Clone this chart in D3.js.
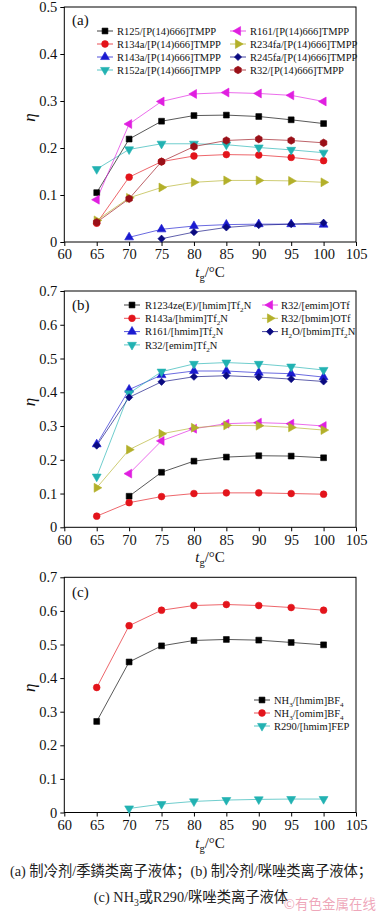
<!DOCTYPE html>
<html><head><meta charset="utf-8">
<script src="https://cdn.jsdelivr.net/npm/d3@7"></script>
<style>body{margin:0;background:#fff}svg{display:block}</style>
</head><body>
<svg id="c" width="381" height="912"></svg>
<script>
// ---------- data ----------
const temps = [65, 70, 75, 80, 85, 90, 95, 100];
const xTicks = [60, 65, 70, 75, 80, 85, 90, 95, 100, 105];
const yTicksA = [0, 0.1, 0.2, 0.3, 0.4, 0.5];
const yTicksBC = [0, 0.1, 0.2, 0.3, 0.4, 0.5, 0.6, 0.7];

// panel (a)
const aNames = ["R125/[P(14)666]TMPP","R134a/[P(14)666]TMPP","R143a/[P(14)666]TMPP","R152a/[P(14)666]TMPP",
                "R161/[P(14)666]TMPP","R234fa/[P(14)666]TMPP","R245fa/[P(14)666]TMPP","R32/[P(14)666]TMPP"];
const aR125   = [0.105,0.219,0.257,0.269,0.270,0.267,0.260,0.252];
const aR134a  = [0.040,0.138,0.171,0.183,0.186,0.185,0.180,0.173];
const aR143a  = [null,0.010,0.027,0.034,0.037,0.038,0.038,0.037];
const aR152a  = [0.155,0.197,0.209,0.209,0.207,0.201,0.196,0.190];
const aR161   = [0.090,0.251,0.299,0.315,0.318,0.316,0.312,0.299];
const aR234fa = [0.046,0.094,0.116,0.127,0.131,0.131,0.130,0.127];
const aR245fa = [null,null,0.007,0.021,0.031,0.036,0.038,0.041];
const aR32    = [0.042,0.092,0.171,0.203,0.216,0.219,0.216,0.211];

// panel (b)
const bNames = ["R1234ze(E)/[hmim]Tf_2N","R143a/[hmim]Tf_2N","R161/[hmim]Tf_2N","R32/[emim]Tf_2N",
                "R32/[emim]OTf","R32/[bmim]OTf","H_2O/[bmim]Tf_2N"];
const bR1234ze  = [null,0.092,0.163,0.196,0.208,0.212,0.211,0.206];
const bR143a    = [0.033,0.073,0.091,0.100,0.102,0.102,0.100,0.098];
const bR161     = [0.246,0.408,0.451,0.463,0.463,0.458,0.455,0.445];
const bR32Tf2N  = [0.150,0.397,0.461,0.484,0.488,0.484,0.476,0.466];
const bR32emOTf = [null,0.159,0.256,0.292,0.307,0.310,0.307,0.300];
const bR32bmOTf = [0.117,0.230,0.277,0.295,0.302,0.301,0.296,0.288];
const bH2O      = [0.242,0.385,0.431,0.446,0.449,0.445,0.439,0.432];

// panel (c)
const cNames = ["NH_3/[hmim]BF_4","NH_3/[omim]BF_4","R290/[hmim]FEP"];
const cNH3hmim = [0.271,0.448,0.496,0.512,0.515,0.513,0.506,0.499];
const cNH3omim = [0.372,0.556,0.602,0.616,0.619,0.616,0.610,0.602];
const cR290    = [null,0.012,0.025,0.033,0.037,0.039,0.040,0.040];

const captionLine1 = "(a) 制冷剂/季鏻类离子液体；(b) 制冷剂/咪唑类离子液体；";
const captionLine2 = "(c) NH_3或R290/咪唑类离子液体";
const watermark = "©有色金属在线";

// ---------- styles ----------
const COL = {black:"#000000", red:"#e3141b", blue:"#1a1ad0", cyan:"#22b2b2", magenta:"#e01fe0",
             olive:"#b3b02a", navy:"#0a0a80", wine:"#9a1018"};
const hexagon = {draw(ctx, size){const r=Math.sqrt(size/2.598);for(let i=0;i<6;i++){const a=Math.PI/3*i+Math.PI/6;const px=r*Math.cos(a),py=r*Math.sin(a);i?ctx.lineTo(px,py):ctx.moveTo(px,py);}ctx.closePath();}};
const MK = {
  square:{type:d3.symbolSquare,size:34,rot:0},
  circle:{type:d3.symbolCircle,size:36,rot:0},
  up:{type:d3.symbolTriangle,size:34,rot:0},
  down:{type:d3.symbolTriangle,size:34,rot:180},
  left:{type:d3.symbolTriangle,size:34,rot:-90},
  right:{type:d3.symbolTriangle,size:34,rot:90},
  diamond:{type:d3.symbolSquare,size:26,rot:45},
  hex:{type:hexagon,size:38,rot:0}
};
const SERIF = "'Liberation Serif','Times New Roman',serif";

const panels = [
  {top:7, bottom:242, ymax:0.5, yTicks:yTicksA, label:"(a)", labelY:20,
   series:[
    {name:aNames[0],v:aR125,c:COL.black,m:"square"},
    {name:aNames[1],v:aR134a,c:COL.red,m:"circle"},
    {name:aNames[2],v:aR143a,c:COL.blue,m:"up"},
    {name:aNames[3],v:aR152a,c:COL.cyan,m:"down"},
    {name:aNames[4],v:aR161,c:COL.magenta,m:"left"},
    {name:aNames[5],v:aR234fa,c:COL.olive,m:"right"},
    {name:aNames[6],v:aR245fa,c:COL.navy,m:"diamond"},
    {name:aNames[7],v:aR32,c:COL.wine,m:"hex"}],
   legend:{cols:[{mx:105,tx:117,items:[0,1,2,3]},{mx:238,tx:250,items:[4,5,6,7]}],y0:31,dy:13}},
  {top:291, bottom:527.3, ymax:0.7, yTicks:yTicksBC, label:"(b)", labelY:305,
   series:[
    {name:bNames[0],v:bR1234ze,c:COL.black,m:"square"},
    {name:bNames[1],v:bR143a,c:COL.red,m:"circle"},
    {name:bNames[2],v:bR161,c:COL.blue,m:"up"},
    {name:bNames[3],v:bR32Tf2N,c:COL.cyan,m:"down"},
    {name:bNames[4],v:bR32emOTf,c:COL.magenta,m:"left"},
    {name:bNames[5],v:bR32bmOTf,c:COL.olive,m:"right"},
    {name:bNames[6],v:bH2O,c:COL.navy,m:"diamond"}],
   legend:{cols:[{mx:132,tx:145,items:[0,1,2,3]},{mx:270,tx:281,items:[4,5,6]}],y0:305,dy:13.3}},
  {top:577.3, bottom:812.5, ymax:0.7, yTicks:yTicksBC, label:"(c)", labelY:592,
   series:[
    {name:cNames[0],v:cNH3hmim,c:COL.black,m:"square"},
    {name:cNames[1],v:cNH3omim,c:COL.red,m:"circle"},
    {name:cNames[2],v:cR290,c:COL.cyan,m:"down"}],
   legend:{cols:[{mx:262,tx:274,items:[0,1,2]}],y0:700,dy:13}}
];

// ---------- drawing ----------
const svg = d3.select("#c");
const x = d3.scaleLinear().domain([60,105]).range([64.3,356]);

// text with "_d" subscripts
function rich(sel, str, fs){
  const parts = str.split(/_(\d)/);
  const sh = fs*0.28;
  let pending = 0;
  parts.forEach((p,i)=>{
    if(!p) return;
    if(i%2===1){
      sel.append("tspan").attr("font-size",fs*0.68).attr("dy",sh - pending).text(p);
      pending = sh;
    } else {
      const ts = sel.append("tspan").text(p);
      if(pending){ ts.attr("dy",-pending); pending = 0; }
    }
  });
}
function sym(g, m, color, cx, cy){
  const s = MK[m];
  g.append("path").attr("d",d3.symbol().type(s.type).size(s.size)())
    .attr("transform",`translate(${cx},${cy}) rotate(${s.rot})`)
    .attr("fill",color).attr("stroke",color).attr("stroke-width",0.6);
}

panels.forEach(P=>{
  const y = d3.scaleLinear().domain([0,P.ymax]).range([P.bottom,P.top]);
  const g = svg.append("g");

  const xa = g.append("g").attr("transform",`translate(0,${P.bottom})`)
    .call(d3.axisBottom(x).tickValues(xTicks).tickSize(4).tickSizeOuter(0).tickPadding(3).tickFormat(d3.format("d")));
  const ya = g.append("g").attr("transform",`translate(${x.range()[0]},0)`)
    .call(d3.axisLeft(y).tickValues(P.yTicks).tickSize(4).tickSizeOuter(0).tickPadding(3)
      .tickFormat(d=>d===0?"0":d3.format(".1f")(d)));
  [xa,ya].forEach(a=>{
    a.select(".domain").remove();
    a.selectAll("text").attr("font-family",SERIF).attr("font-size",14.5).attr("fill","#111");
    a.selectAll("line").attr("stroke","#000");
  });

  g.append("rect").attr("x",x.range()[0]).attr("y",P.top)
    .attr("width",x.range()[1]-x.range()[0]).attr("height",P.bottom-P.top)
    .attr("fill","none").attr("stroke","#000").attr("stroke-width",1);

  // axis titles
  const t = g.append("text").attr("x",210).attr("y",P.bottom+35).attr("text-anchor","middle")
    .attr("font-family",SERIF).attr("font-size",15).attr("fill","#111");
  t.append("tspan").attr("font-style","italic").text("t");
  t.append("tspan").attr("font-size",10.5).attr("dy",4).text("g");
  t.append("tspan").attr("dy",-4).text("/°C");
  g.append("text").attr("transform",`translate(29,${(P.top+P.bottom)/2-7}) rotate(-90)`)
    .attr("text-anchor","middle").attr("dy","0.35em").attr("font-family",SERIF)
    .attr("font-style","italic").attr("font-size",17).attr("fill","#111").text("η");

  g.append("text").attr("x",72).attr("y",P.labelY).attr("dy","0.35em")
    .attr("font-family",SERIF).attr("font-size",15).attr("fill","#111").text(P.label);

  // series
  P.series.forEach(S=>{
    const pts = temps.map((t,i)=>({t,v:S.v[i]}));
    const line = d3.line().defined(d=>d.v!=null).x(d=>x(d.t)).y(d=>y(d.v));
    g.append("path").attr("d",line(pts)).attr("fill","none")
      .attr("stroke",S.c).attr("stroke-width",1).attr("stroke-opacity",0.65);
  });
  P.series.forEach(S=>{
    temps.forEach((t,i)=>{ if(S.v[i]!=null) sym(g,S.m,S.c,x(t),y(S.v[i])); });
  });

  // legend
  P.legend.cols.forEach(col=>{
    col.items.forEach((si,k)=>{
      const S = P.series[si];
      const ly = P.legend.y0 + k*P.legend.dy;
      g.append("line").attr("x1",col.mx-8).attr("x2",col.mx+8).attr("y1",ly).attr("y2",ly)
        .attr("stroke",S.c).attr("stroke-width",1).attr("stroke-opacity",0.75);
      sym(g,S.m,S.c,col.mx,ly);
      const tx = g.append("text").attr("x",col.tx).attr("y",ly+3.7)
        .attr("font-family",SERIF).attr("font-size",10.5).attr("fill","#111");
      rich(tx,S.name,10.5);
    });
  });
});

// caption
const CAP = "'Liberation Serif','Noto Sans CJK SC',serif";
svg.append("text").attr("x",191).attr("y",876)
  .attr("text-anchor","middle")
  .attr("font-family",CAP).attr("font-size",14.3).attr("fill","#222").text(captionLine1);
const c2 = svg.append("text").attr("x",191).attr("y",902).attr("text-anchor","middle")
  .attr("font-family",CAP).attr("font-size",14.3).attr("fill","#222");
rich(c2,captionLine2,14.3);
svg.append("text").attr("x",376).attr("y",909).attr("text-anchor","end")
  .attr("font-family","'Noto Sans CJK SC',sans-serif").attr("font-size",13.5)
  .attr("fill","#e98aa3").attr("fill-opacity",0.75).text(watermark);
</script>
</body></html>
